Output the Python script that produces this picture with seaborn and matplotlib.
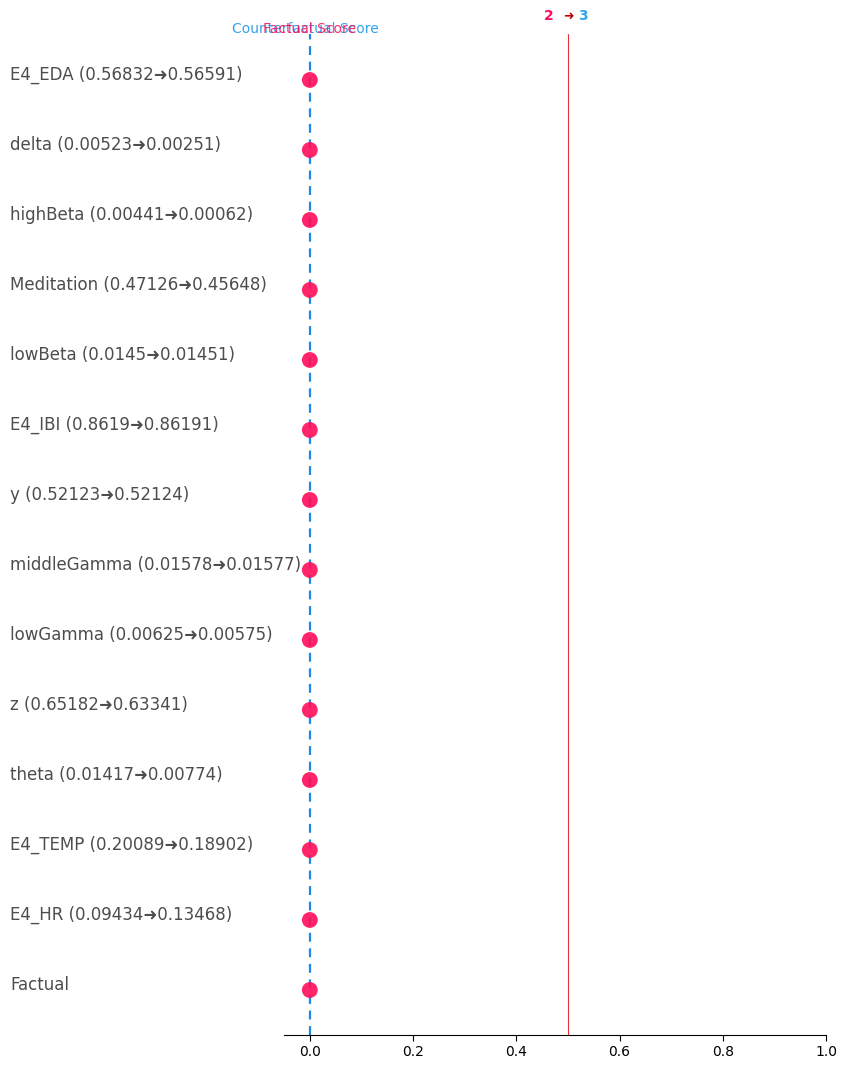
import matplotlib
matplotlib.use("Agg")
import matplotlib.pyplot as plt
import matplotlib.transforms as mtransforms
import seaborn as sns
import pandas as pd

# counterfactual explanation data, top to bottom
features = ["E4_EDA", "delta", "highBeta", "Meditation", "lowBeta", "E4_IBI", "y",
            "middleGamma", "lowGamma", "z", "theta", "E4_TEMP", "E4_HR", "Factual"]
factual_vals = ["0.56832", "0.00523", "0.00441", "0.47126", "0.0145", "0.8619", "0.52123",
                "0.01578", "0.00625", "0.65182", "0.01417", "0.20089", "0.09434", None]
cf_vals = ["0.56591", "0.00251", "0.00062", "0.45648", "0.01451", "0.86191", "0.52124",
           "0.01577", "0.00575", "0.63341", "0.00774", "0.18902", "0.13468", None]
scores = [0.0] * 14
threshold = 0.5
factual_class = "2"
cf_class = "3"

labels = []
for f, a, b in zip(features, factual_vals, cf_vals):
    labels.append(f if a is None else f"{f} ({a}\u279c{b})")

df = pd.DataFrame({"feature": features, "score": scores, "row": range(len(features))})

sns.set_style("white")
plt.rcParams["font.family"] = ["DejaVu Sans"]

fig = plt.figure(figsize=(8.47, 10.69), dpi=100)
ax = fig.add_axes([0.3353, 0.0318, 0.6399, 0.9364])

ax.axvline(0, color="#1E88E5", linestyle=(0, (4, 3)), linewidth=1.6, zorder=1)
ax.axvline(threshold, color="#e8303c", linewidth=0.8, zorder=1)

sns.scatterplot(data=df, x="score", y="row", ax=ax, color="#ff0d57", s=130,
                alpha=0.9, edgecolor="none", zorder=3, legend=False)

ax.set_xlim(-0.05, 1.0)
ax.set_ylim(len(features) - 1 + 0.643, -0.657)
ax.set_xticks([0.0, 0.2, 0.4, 0.6, 0.8, 1.0])
ax.set_yticks([])
ax.set_xlabel("")
ax.set_ylabel("")
for s in ["top", "left", "right"]:
    ax.spines[s].set_visible(False)
ax.spines["bottom"].set_color("black")
ax.tick_params(axis="x", bottom=True, length=4, labelsize=10, colors="black")

trans = mtransforms.blended_transform_factory(fig.transFigure, ax.transData)
for i, lab in enumerate(labels):
    ax.text(10 / 847, i - 0.07, lab, transform=trans, ha="left", va="center",
            fontsize=12, color="#4d4d4d", clip_on=False)

# score legend at top
head = mtransforms.blended_transform_factory(ax.transData, fig.transFigure)
ax.text(-0.009, 1 - 29 / 1069, "Counterfactual Score", transform=head,
        ha="center", va="center", fontsize=10, color="#36a2eb", clip_on=False)
ax.text(0.0, 1 - 29 / 1069, "Factual Score", transform=head,
        ha="center", va="center", fontsize=10, color="#ff0d57", clip_on=False, alpha=0.85)

yy = 1 - 16 / 1069
ax.text(threshold - 0.038, yy, factual_class, transform=head, ha="center", va="center",
        fontsize=10, fontweight="bold", color="#ff0d57", clip_on=False)
ax.text(threshold + 0.002, yy, "\u279c", transform=head, ha="center", va="center",
        fontsize=9, color="#c00000", clip_on=False)
ax.text(threshold + 0.03, yy, cf_class, transform=head, ha="center", va="center",
        fontsize=10, fontweight="bold", color="#36a2eb", clip_on=False)

fig.savefig("out.png", dpi=100)
